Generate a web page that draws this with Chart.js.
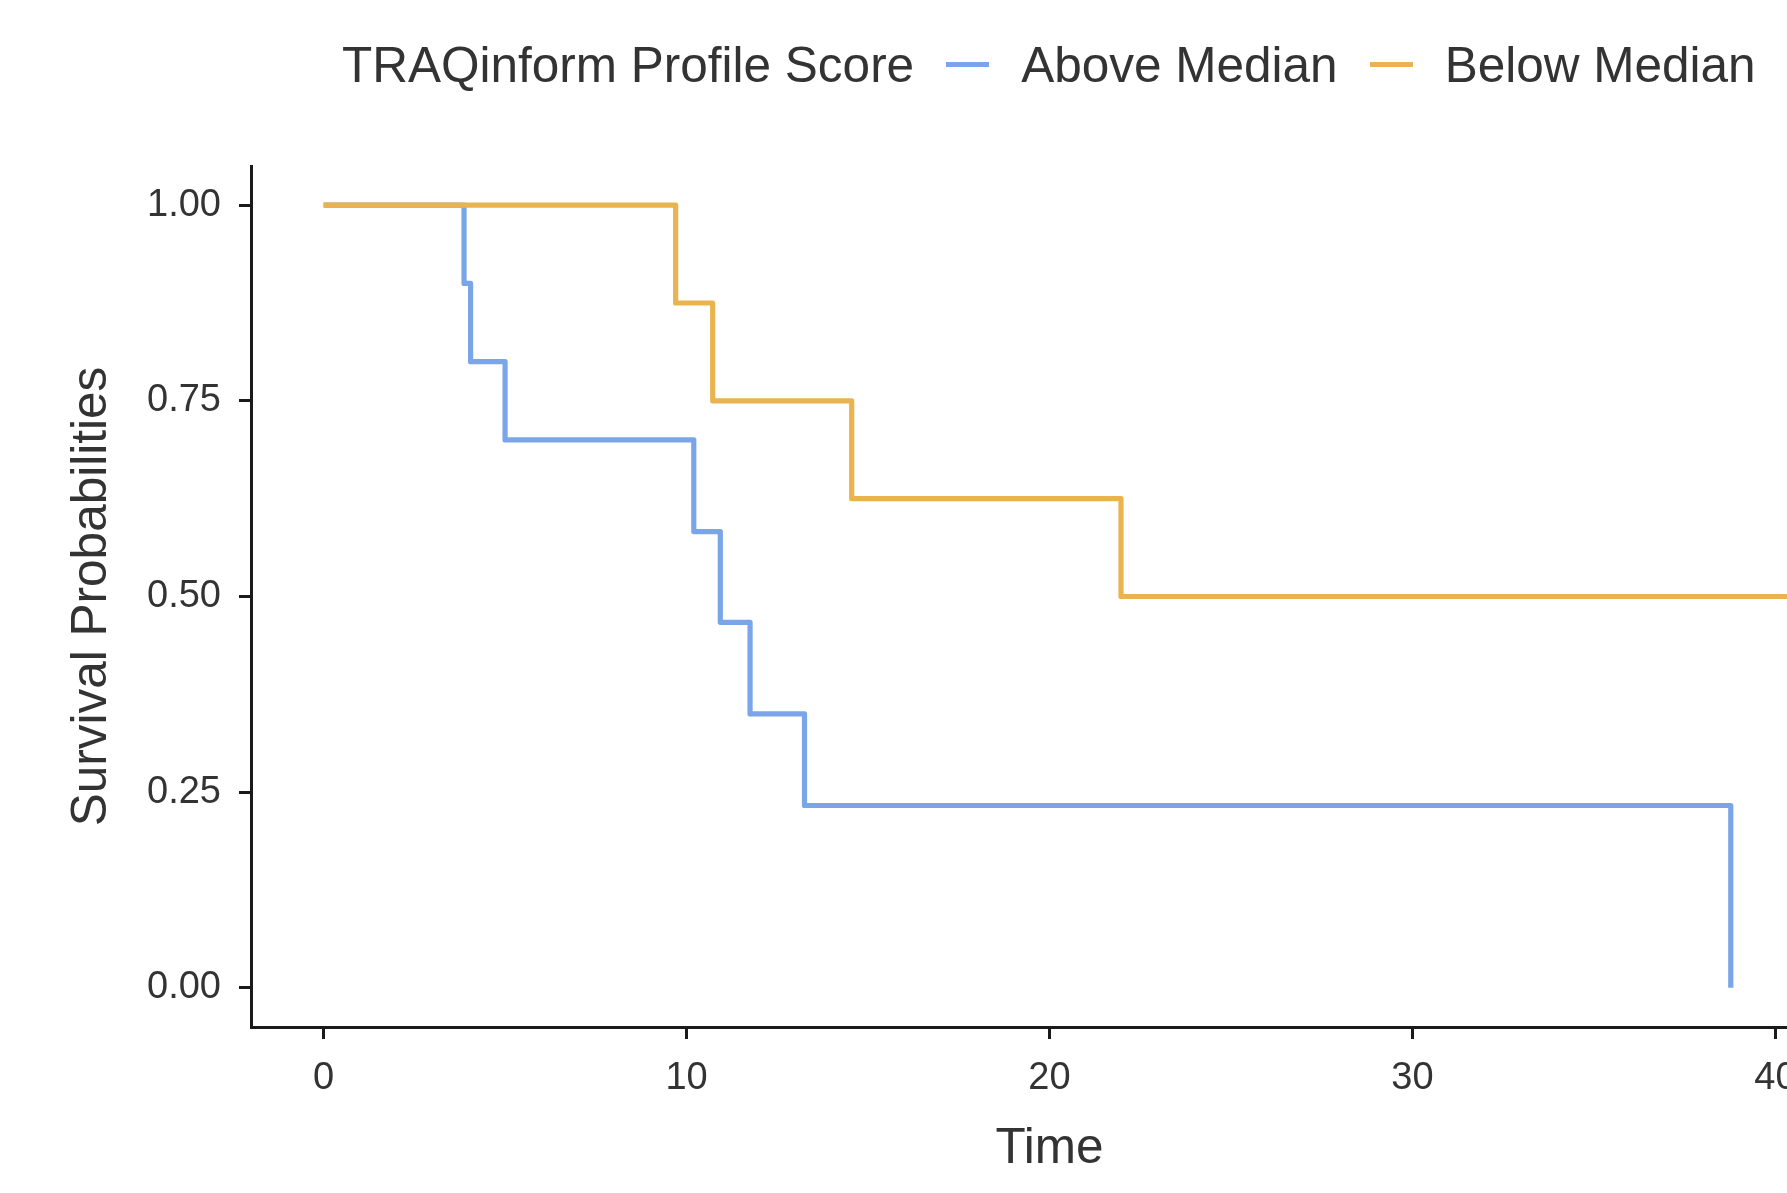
<!DOCTYPE html>
<html>
<head>
<meta charset="utf-8">
<script src="https://cdn.jsdelivr.net/npm/chart.js@4.4.1/dist/chart.umd.min.js"></script>
<style>
    html, body {
        margin: 0;
        padding: 0;
        width: 1787px;
        height: 1193px;
        overflow: hidden;
        background: #fff;
    }
    #wrap {
        position: relative;
        width: 1787px;
        height: 1193px;
    }
    #km {
        position: absolute;
        left: 0;
        top: 0;
    }
    #legend {
        position: absolute;
        left: 342px;
        top: 24px;
        height: 80px;
        display: flex;
        align-items: center;
        font-family: "Liberation Sans", Arial, sans-serif;
        font-size: 49.5px;
        color: #333;
        white-space: nowrap;
    }
    #legend .key {
        width: 43px;
        height: 5px;
        margin: 0 32px;
    }
</style>
</head>
<body>
<div id="wrap">
    <canvas id="km" width="1880" height="1193"></canvas>
    <div id="legend"></div>
</div>
<script>
// ============================
// Kaplan-Meier data
// ============================

const legendTitle = 'TRAQinform Profile Score';
const groupNames = ['Above Median', 'Below Median'];
const groupColors = ['#7AA6E9', '#E9B44F'];

const aboveTime = [0, 3.87, 4.05, 5.0, 10.2, 10.93, 11.75, 13.25, 38.77];
const aboveSurv = [1, 0.9, 0.8, 0.7, 0.583, 0.467, 0.35, 0.233, 0];

const belowTime = [0, 9.7, 10.72, 14.55, 21.97, 40.6];
const belowSurv = [1, 0.875, 0.75, 0.625, 0.5, 0.5];

const xTicks = [0, 10, 20, 30, 40];
const yTicks = [0, 0.25, 0.5, 0.75, 1];
const yTickLabels = ['0.00', '0.25', '0.50', '0.75', '1.00'];

const FONT = '"Liberation Sans", Arial, sans-serif';
const TEXT = '#333';
const AXIS = '#1a1a1a';

function toPoints(times, surv) {
    return times.map((t, i) => ({ x: t, y: surv[i] }));
}

// legend (ggplot style, inline title)
const legend = document.getElementById('legend');
const title = document.createElement('span');
title.textContent = legendTitle;
legend.appendChild(title);
groupNames.forEach((name, i) => {
    const key = document.createElement('span');
    key.className = 'key';
    key.style.background = groupColors[i];
    legend.appendChild(key);
    const label = document.createElement('span');
    label.textContent = name;
    legend.appendChild(label);
});

const axisGrid = {
    drawOnChartArea: false,
    drawTicks: true,
    tickLength: 12,
    lineWidth: 3,
    color: AXIS
};

const ctx = document.getElementById('km').getContext('2d');

new Chart(ctx, {
    type: 'line',
    data: {
        datasets: [{
            label: groupNames[0],
            data: toPoints(aboveTime, aboveSurv),
            borderColor: groupColors[0],
            borderWidth: 5.2,
            stepped: true,
            pointRadius: 0,
            borderJoinStyle: 'round',
            order: 2
        }, {
            label: groupNames[1],
            data: toPoints(belowTime, belowSurv),
            borderColor: groupColors[1],
            borderWidth: 5.2,
            stepped: true,
            pointRadius: 0,
            borderJoinStyle: 'round',
            order: 1
        }]
    },
    options: {
        responsive: false,
        animation: false,
        devicePixelRatio: 1,
        layout: {
            padding: { top: 166, right: 32, bottom: 0, left: 0 }
        },
        scales: {
            x: {
                type: 'linear',
                min: -2,
                max: 42,
                afterBuildTicks: scale => {
                    scale.ticks = xTicks.map(v => ({ value: v }));
                },
                afterFit: scale => {
                    scale.height = 166;
                },
                grid: axisGrid,
                border: { display: true, color: AXIS, width: 3 },
                ticks: {
                    color: TEXT,
                    padding: 17,
                    autoSkip: false,
                    maxRotation: 0,
                    font: { family: FONT, size: 38 }
                },
                title: {
                    display: true,
                    text: 'Time',
                    color: TEXT,
                    padding: { top: 0, bottom: 14 },
                    font: { family: FONT, size: 49.5 }
                }
            },
            y: {
                type: 'linear',
                min: -0.05,
                max: 1.05,
                afterBuildTicks: scale => {
                    scale.ticks = yTicks.map(v => ({ value: v }));
                },
                afterFit: scale => {
                    scale.width = 251;
                },
                grid: axisGrid,
                border: { display: true, color: AXIS, width: 3 },
                ticks: {
                    color: TEXT,
                    padding: 18,
                    autoSkip: false,
                    font: { family: FONT, size: 38 },
                    callback: (value, index) => yTickLabels[index]
                },
                title: {
                    display: true,
                    text: 'Survival Probabilities',
                    color: TEXT,
                    padding: { top: 63, bottom: 0 },
                    font: { family: FONT, size: 49.5 }
                }
            }
        },
        plugins: {
            legend: { display: false },
            tooltip: { enabled: false }
        }
    }
});
</script>
</body>
</html>
